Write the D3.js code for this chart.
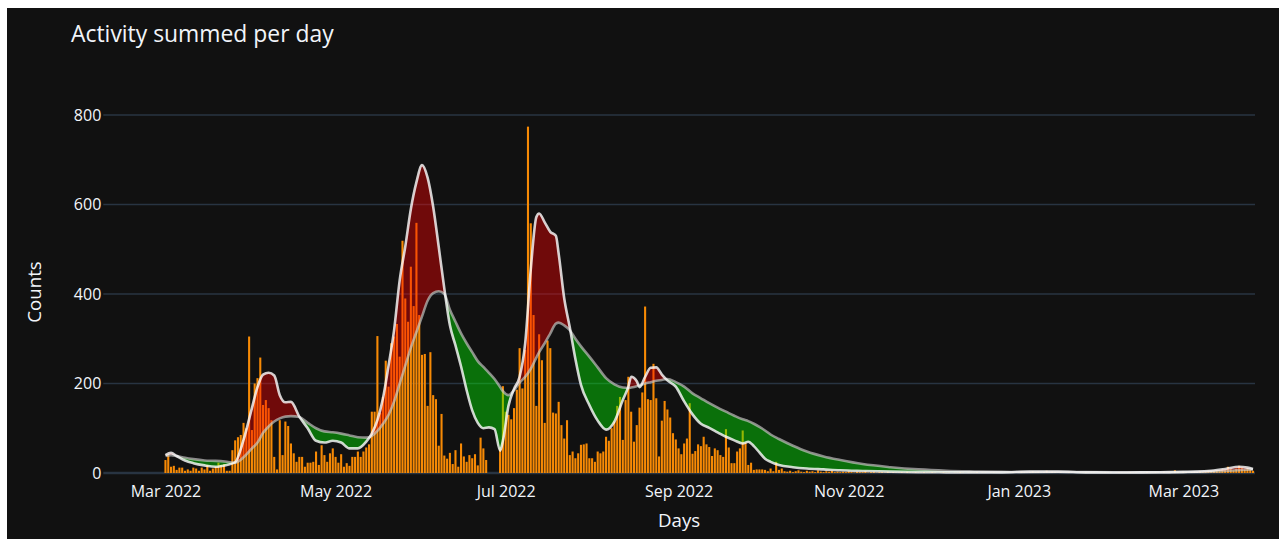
<!DOCTYPE html>
<html>
<head>
<meta charset="utf-8">
<script src="https://cdn.jsdelivr.net/npm/d3@7"></script>
<style>
  body { margin: 0; background: #fff; }
  svg { display: block; font-family: "Open Sans", sans-serif; }
</style>
</head>
<body>
<div id="chart"></div>
<script>
// first day of the series, one bar per day after that
const startDay = "2022-03-01";

// daily summed activity
const dailyCounts = [
  // Mar 1 - Mar 24 2022
  29,40,14,16,7,12,12,5,8,5,12,10,5,12,8,18,5,10,14,23,18,20,5,5,
  // Mar 25 - Apr 10
  51,73,80,85,112,100,305,96,200,212,258,152,163,145,118,36,8,
  // Apr 11 - May 15
  118,40,115,105,66,44,25,36,36,14,23,23,25,48,18,62,40,25,44,55,36,23,42,14,22,16,36,36,48,36,48,57,64,137,137,
  // May 16 - Jun 30
  306,134,170,251,193,290,305,333,260,519,390,338,461,373,559,353,264,266,150,270,174,165,61,132,39,32,45,20,51,14,
  66,37,25,40,33,42,17,79,55,29,0,0,0,0,55,194,
  // Jul 1 - Aug 23
  137,130,120,145,186,279,189,275,774,558,353,150,310,252,112,296,279,135,133,159,107,77,118,40,48,33,44,63,64,66,
  33,33,25,48,44,48,81,72,100,115,150,170,74,163,215,137,70,107,146,180,372,165,163,244,
  // Aug 24 - Oct 9
  167,37,117,161,142,124,89,75,55,42,66,77,156,43,49,64,60,81,64,58,38,55,51,40,36,98,57,22,22,48,
  55,95,68,18,23,7,8,8,8,7,4,10,4,25,7,10,4,
  // Oct 10 - Oct 29
  3,5,2,4,6,3,2,5,3,4,2,6,3,2,4,3,5,2,3,2,
  // Oct 30 - Nov 28
  3,2,4,2,1,3,2,2,4,1,2,3,1,2,2,1,3,1,2,1,1,2,1,3,1,1,2,1,1,2,
  // Nov 29 - Dec 29
  1,1,2,1,0,1,2,1,1,0,1,1,2,1,0,1,1,1,2,0,1,1,0,1,2,1,1,0,1,1,1,
  // Dec 30 - Jan 29 2023
  2,1,1,3,2,1,2,4,2,3,1,2,5,2,3,2,1,2,1,1,2,1,1,0,1,1,2,1,1,1,0,
  // Jan 30 - Feb 26
  1,1,2,1,1,0,1,2,1,1,1,2,1,1,0,1,1,2,1,1,2,1,1,3,1,2,1,6,
  // Feb 27 - Mar 26
  2,1,3,2,1,2,3,2,4,2,3,5,3,4,6,5,8,7,14,9,6,10,16,12,8,10,7,5
];

// the two smoothed curves, sampled on these days (offset from startDay)
const maDays = [
  0,2,4,7,10,14,18,22,25,28,
  31,33,35,37,39,41,43,45,48,51,
  54,57,60,63,66,69,72,74,76,78,
  80,82,84,86,88,90,92,94,96,98,
  100,102,104,106,108,110,112,114,116,118,
  120,121,123,125,127,129,131,133,134,136,
  138,140,141,143,145,147,149,152,155,158,
  161,164,166,167,169,170,172,174,176,178,
  180,183,186,189,192,195,198,201,204,207,
  209,211,213,215,217,220,225,230,236,242,
  250,260,270,280,290,300,310,320,330,340,
  350,360,365,370,375,380,385,388,390
];
const fastAvg = [
  40,45,38,28,22,17,14,18,24,74,
  145,192,220,224,218,174,158,159,126,100,
  72,68,72,68,55,55,70,88,118,167,
  240,320,431,506,590,650,688,660,595,505,
  412,330,285,238,185,140,112,100,102,98,
  50,72,150,188,215,290,455,572,580,560,
  539,530,490,390,325,255,197,152,117,97,
  115,163,193,215,205,192,215,235,236,220,
  207,193,160,131,110,101,91,81,73,66,
  70,60,46,32,25,18,13,10,8,6,
  4.5,3,2,1.5,1.5,1.5,3,3,1.5,1.2,
  1.3,2,2.5,3,5,9,14,12,9
];
const slowAvg = [
  38,40,38,34,31,28,27,25,23,35,
  55,68,90,104,115,122,126,127,125,112,
  100,93,91,88,84,80,79,83,94,110,
  130,160,200,240,280,315,350,385,402,406,
  400,365,338,312,290,270,250,237,224,210,
  192,183,174,185,202,215,233,258,270,290,
  312,334,336,330,319,300,283,260,236,212,
  198,191,190,191,194,196,200,203,206,208,
  210,203,193,178,167,156,146,137,128,120,
  116,110,103,95,86,76,61,48,37,29,
  20,13,8,5,3.5,2.5,2,2.2,2,1.5,
  1.4,1.5,1.8,2.2,3,4.5,6.5,7.5,8
];

const yTicks = [0, 200, 400, 600, 800];

const width = 1286, height = 545;
const plot = { left: 103.3, right: 1255, top: 115, bottom: 473 };

const start = d3.utcParse("%Y-%m-%d")(startDay);
const bars = dailyCounts.map((v, i) => ({ date: d3.utcDay.offset(start, i), value: v }));
const ma = maDays.map((d, i) => ({ date: d3.utcDay.offset(start, d), fast: fastAvg[i], slow: slowAvg[i] }));

const x = d3.scaleUtc()
    .domain([d3.utcHour.offset(start, -535), d3.utcHour.offset(start, 9377)])
    .range([plot.left, plot.right]);

const y = d3.scaleLinear()
    .domain([0, 800])
    .range([plot.bottom, plot.top]);

const svg = d3.select("#chart")
  .append("svg")
    .attr("width", width)
    .attr("height", height)
    .attr("viewBox", [0, 0, width, height]);

// dark paper with a thin white margin round it
svg.append("rect")
    .attr("x", 7).attr("y", 8)
    .attr("width", 1272).attr("height", 531)
    .attr("fill", "#111111");

// grid
svg.append("g")
  .selectAll("line")
  .data(yTicks.filter(t => t > 0))
  .join("line")
    .attr("x1", plot.left).attr("x2", plot.right)
    .attr("y1", d => y(d)).attr("y2", d => y(d))
    .attr("stroke", "#283442")
    .attr("stroke-width", 1.3);

svg.append("line")
    .attr("x1", plot.left).attr("x2", plot.right)
    .attr("y1", y(0)).attr("y2", y(0))
    .attr("stroke", "#283442")
    .attr("stroke-width", 2.7);

// daily bars
const dayW = x(d3.utcDay.offset(start, 1)) - x(start);
const barW = dayW * 0.75;

svg.append("g")
  .selectAll("rect")
  .data(bars.filter(d => d.value > 0))
  .join("rect")
    .attr("x", d => x(d.date) - barW / 2)
    .attr("y", d => y(d.value))
    .attr("width", barW)
    .attr("height", d => y(0) - y(d.value))
    .attr("fill", "#f78a05");

// fill between the two curves: red where fast is above slow, green below
const curve = d3.curveMonotoneX;

const between = d3.area()
    .x(d => x(d.date))
    .y0(d => y(d.fast))
    .y1(d => y(d.slow))
    .curve(curve);

const defs = svg.append("defs");
defs.append("clipPath").attr("id", "above-slow")
  .append("path")
    .datum(ma)
    .attr("d", d3.area().x(d => x(d.date)).y0(0).y1(d => y(d.slow)).curve(curve));
defs.append("clipPath").attr("id", "below-slow")
  .append("path")
    .datum(ma)
    .attr("d", d3.area().x(d => x(d.date)).y0(height).y1(d => y(d.slow)).curve(curve));

svg.append("path")
    .datum(ma)
    .attr("clip-path", "url(#above-slow)")
    .attr("d", between)
    .attr("fill", "rgba(255,0,0,0.4)");

svg.append("path")
    .datum(ma)
    .attr("clip-path", "url(#below-slow)")
    .attr("d", between)
    .attr("fill", "rgba(0,255,0,0.4)");

// the two curves
svg.append("path")
    .datum(ma)
    .attr("d", d3.line().x(d => x(d.date)).y(d => y(d.slow)).curve(curve))
    .attr("fill", "none")
    .attr("stroke", "rgba(205,205,205,0.65)")
    .attr("stroke-width", 2.6);

svg.append("path")
    .datum(ma)
    .attr("d", d3.line().x(d => x(d.date)).y(d => y(d.fast)).curve(curve))
    .attr("fill", "none")
    .attr("stroke", "rgba(255,255,255,0.8)")
    .attr("stroke-width", 2.6);

// axes
const xAxis = svg.append("g")
    .attr("transform", `translate(0,${plot.bottom})`)
    .call(d3.axisBottom(x)
      .ticks(d3.utcMonth.every(2))
      .tickFormat(d3.utcFormat("%b %Y"))
      .tickSize(0)
      .tickPadding(13));
xAxis.select(".domain").remove();
xAxis.selectAll("text")
    .attr("fill", "#f2f5fa")
    .attr("font-size", 16)
    .attr("font-family", "Open Sans");

const yAxis = svg.append("g")
    .attr("transform", `translate(${plot.left},0)`)
    .call(d3.axisLeft(y).tickValues(yTicks).tickSize(0).tickPadding(2));
yAxis.select(".domain").remove();
yAxis.selectAll("text")
    .attr("fill", "#f2f5fa")
    .attr("font-size", 16)
    .attr("font-family", "Open Sans");

// titles
svg.append("text")
    .attr("x", 71)
    .attr("y", 42)
    .attr("fill", "#f2f5fa")
    .attr("font-size", 22.9)
    .text("Activity summed per day");

svg.append("text")
    .attr("text-anchor", "middle")
    .attr("x", (plot.left + plot.right) / 2)
    .attr("y", 527)
    .attr("fill", "#f2f5fa")
    .attr("font-size", 18.7)
    .text("Days");

svg.append("text")
    .attr("text-anchor", "middle")
    .attr("transform", "translate(41,292) rotate(-90)")
    .attr("fill", "#f2f5fa")
    .attr("font-size", 18.7)
    .text("Counts");
</script>
</body>
</html>
